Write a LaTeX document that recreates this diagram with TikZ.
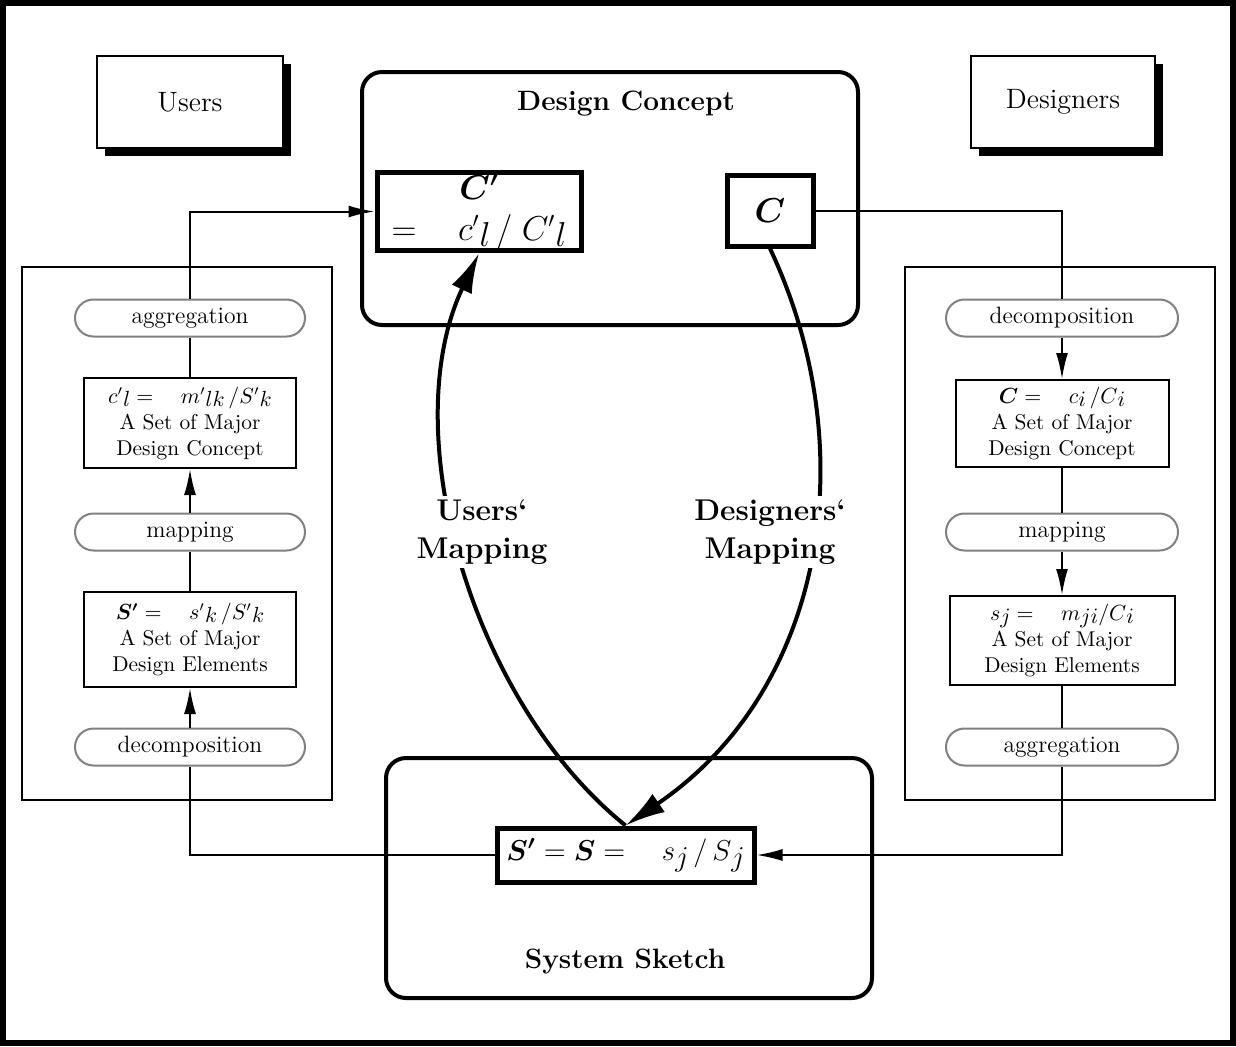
\documentclass[tikz,border=0pt]{standalone}
\usepackage{fontspec}
\usepackage{bm}
\usetikzlibrary{arrows.meta,shadows}

% lowered full-size index letters
\newcommand{\ix}[2][1.5pt]{\raisebox{-#1}{$#2$}}

\begin{document}
\begin{tikzpicture}[x=0.5pt,y=-0.5pt,
  every node/.style={inner sep=1pt},
  frame/.style={draw,line width=3pt},
  actor/.style={draw,line width=1pt,fill=white,minimum width=93pt,minimum height=46pt,
    font=\fontsize{14}{16}\selectfont,
    general shadow={fill=black,shadow xshift=4pt,shadow yshift=-4pt}},
  group/.style={draw,line width=2pt,rounded corners=10pt},
  grouptitle/.style={font=\fontsize{14}{17}\selectfont\bfseries},
  keybox/.style={draw,line width=2.5pt,fill=white,align=center,
    font=\fontsize{16}{20.5}\selectfont},
  panel/.style={draw,line width=0.8pt,minimum width=155pt,minimum height=266.5pt},
  op/.style={draw=black!50,line width=1pt,fill=white,rounded corners=9.25pt,
    minimum height=18.5pt,font=\fontsize{11.8}{13}\selectfont},
  setbox/.style={draw,line width=1pt,fill=white,align=center,
    font=\fontsize{10.7}{13}\selectfont},
  link/.style={line width=1pt},
  linkarr/.style={link,-{Latex[length=13pt,width=6pt]}},
  mapcurve/.style={line width=2pt,-{Latex[length=20pt,width=11pt]}},
  maplabel/.style={fill=white,align=center,inner sep=2pt,
    font=\fontsize{15}{19}\selectfont\bfseries}]

\useasboundingbox (0,0) rectangle (1236,1046);
\draw[frame] (3,3) rectangle (1233,1043);

% actors
\node[actor] (users) at (190,102) {Users};
\node[actor,minimum width=92pt] (designers) at (1063,102) {Designers};

% the two groups
\node[group,minimum width=248pt,minimum height=126.5pt] (dc) at (610,198.5) {};
\node[grouptitle] (dctitle) at (626,104) {Design Concept};
\node[group,minimum width=243pt,minimum height=120pt] (ss) at (629,878) {};
\node[grouptitle] (sstitle) at (625,962) {System Sketch};

% side panels
\node[panel] (panelL) at (177,533.5) {};
\node[panel] (panelR) at (1060,533.5) {};

% key expressions
\node[keybox,minimum width=102pt,minimum height=38.5pt] (Cp) at (479,211.5)
  {$\bm{C'}$\\$=\quad c'\ix[3pt]{l}\,/\;C'\ix[3pt]{l}$};
\node[keybox,minimum width=43pt,minimum height=35.5pt] (C) at (770,210.5) {$\bm{C}$};
\node[keybox,minimum width=128.5pt,minimum height=27pt,
  font=\fontsize{14.4}{17}\selectfont] (S) at (625.5,855)
  {$\bm{S'}=\bm{S}=\quad s\ix[3pt]{j}\,/\,S\ix[3pt]{j}$};

% left column
\node[op,minimum width=115pt] (aggL) at (190,318) {aggregation};
\node[op,minimum width=115pt] (mapL) at (190,532) {mapping};
\node[op,minimum width=115pt] (decL) at (190,747) {decomposition};
\node[setbox,minimum width=106pt,minimum height=45pt] (box1) at (190,423)
  {$c'\ix{l}=\quad m'\ix{lk}\,/S'\ix{k}$\\A Set of Major\\Design Concept};
\node[setbox,minimum width=106pt,minimum height=47.5pt] (box2) at (190,639.5)
  {$\bm{S'}=\quad s'\ix{k}\,/S'\ix{k}$\\A Set of Major\\Design Elements};

% right column
\node[op,minimum width=116pt] (decR) at (1062,318) {decomposition};
\node[op,minimum width=116pt] (mapR) at (1062,532) {mapping};
\node[op,minimum width=116pt] (aggR) at (1062,747) {aggregation};
\node[setbox,minimum width=106.5pt,minimum height=43.5pt] (box3) at (1062,423.5)
  {$\bm{C}=\quad c\ix{i}\,/C\ix{i}$\\A Set of Major\\Design Concept};
\node[setbox,minimum width=112.5pt,minimum height=44.5pt] (box4) at (1062,640.5)
  {$s\ix{j}=\quad m\ix{ji}/C\ix{i}$\\A Set of Major\\Design Elements};

% users' chain
\draw[link] (S.west) -| (decL.south);
\draw[linkarr] (decL.north) -- (box2.south);
\draw[link] (box2.north) -- (mapL.south);
\draw[linkarr] (mapL.north) -- (box1.south);
\draw[link] (box1.north) -- (aggL.south);
\draw[linkarr] (aggL.north) |- (Cp.west);

% designers' chain
\draw[link] (C.east) -| (decR.north);
\draw[linkarr] (decR.south) -- (box3.north);
\draw[link] (box3.south) -- (mapR.north);
\draw[linkarr] (mapR.south) -- (box4.north);
\draw[link] (box4.south) -- (aggR.north);
\draw[linkarr] (aggR.south) |- (S.east);

% the two mappings
\draw[mapcurve] (S.north) .. controls (470,700) and (395,430) .. (Cp.south);
\draw[mapcurve] (C.south) .. controls (865,450) and (825,690) .. (S.north);
\node[maplabel] (um) at (482,532) {Users`\\Mapping};
\node[maplabel] (dm) at (770,532) {Designers`\\Mapping};

\end{tikzpicture}
\end{document}
